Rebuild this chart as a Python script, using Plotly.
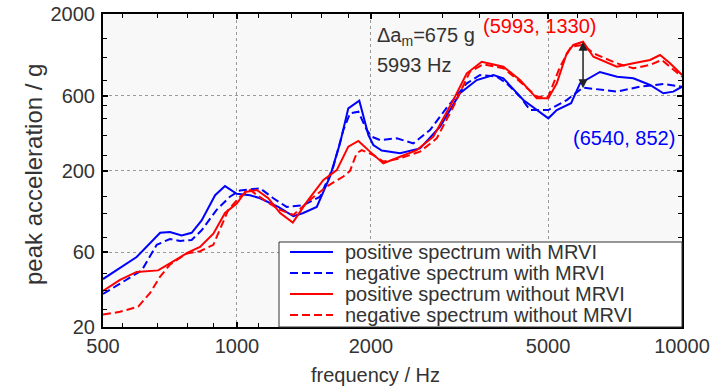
import numpy as np
import plotly.graph_objects as go

# ---------------- data ----------------
freq_pos_mrvi = [500, 595, 672, 707, 751, 791, 833, 893, 940, 999, 1070, 1127, 1238, 1339, 1409,
                 1511, 1618, 1704, 1779, 1883, 1974, 2025, 2115, 2325, 2579, 2860, 3171, 3458,
                 3769, 3969, 4400, 4716, 5008, 5231, 5634, 5900, 6540, 7146, 7774, 8477, 9078,
                 9560, 10000]
acc_pos_mrvi = [40.5, 56, 80, 81, 77, 80, 96, 139, 159, 142, 139, 133, 117, 102, 107,
                117, 183, 298, 499, 559, 337, 291, 268, 258, 277, 381, 623, 757,
                815, 776, 564, 487, 431, 487, 538, 721, 852, 795, 776, 704, 623,
                638, 686]

freq_neg_mrvi = [500, 611, 660, 707, 745, 791, 833, 900, 964, 1016, 1127, 1207, 1293, 1409,
                 1537, 1646, 1734, 1795, 1874, 1957, 2008, 2096, 2286, 2491, 2715, 2961, 3284,
                 3517, 3834, 4038, 4326, 4555, 5008, 5509, 5990, 6544, 7136, 8047, 9078, 10000]
acc_neg_mrvi = [32.5, 46, 67, 73, 71, 72, 83, 112, 136, 149, 154, 133, 117, 120,
                136, 211, 363, 464, 475, 363, 329, 313, 321, 298, 363, 504, 721,
                815, 795, 721, 592, 487, 487, 564, 678, 661, 638, 686, 714, 686]

freq_pos_none = [500, 546, 595, 665, 707, 777, 826, 885, 940, 999, 1043, 1108, 1176, 1250,
                 1335, 1435, 1564, 1676, 1779, 1874, 1990, 2132, 2325, 2535, 2762, 3063, 3284,
                 3548, 3969, 4326, 4716, 5008, 5231, 5509, 5700, 5993, 6322, 7136, 7774, 8477,
                 8926, 9400, 10000]
acc_pos_none = [34, 40, 45, 46, 51, 60, 65, 79, 107, 123, 146, 150, 133, 107,
                93, 126, 174, 201, 284, 309, 264, 222, 245, 270, 329, 564, 836,
                991, 921, 757, 578, 578, 721, 1122, 1268, 1330, 1067, 921, 968, 1017,
                1094, 968, 815]

freq_neg_none = [500, 546, 600, 638, 672, 707, 771, 826, 885, 932, 956, 1016, 1070, 1167,
                 1250, 1340, 1460, 1591, 1734, 1795, 1858, 1907, 2025, 2132, 2325, 2579, 2811,
                 3063, 3339, 3577, 3969, 4326, 4716, 5008, 5320, 5634, 5993, 6322, 7136, 7774,
                 8477, 9005, 10000]
acc_neg_none = [24, 25, 27, 33, 42, 50, 59, 61, 67, 96, 112, 136, 150, 126,
                112, 104, 130, 158, 183, 199, 258, 270, 251, 228, 239, 264, 321,
                511, 856, 954, 900, 739, 592, 592, 921, 1236, 1268, 1122, 968, 900,
                945, 1017, 795]

series_names = ["positive spectrum with MRVI", "negative spectrum with MRVI",
                "positive spectrum without MRVI", "negative spectrum without MRVI"]

x_ticks = [500, 1000, 2000, 5000, 10000]
y_ticks = [20, 60, 200, 600, 2000]
x_minor = [554, 662, 774, 884, 1115, 1329, 1552, 1782, 2320, 2900, 3500, 4170,
           5810, 7140, 7920, 8830]
y_minor = [26, 34.4, 44, 75, 107, 137, 251, 337, 433, 517, 757, 1062, 1404]

peak_without = (5993, 1330)
peak_with = (6540, 852)
delta_am = 675

# ---------------- styling ----------------
FONT = "Liberation Sans, Arial, sans-serif"
FS = 20
TXT = "#333333"
BLUE = "#0000ff"
RED = "#ff0000"
DASH = "8px,4px"

styles = [(BLUE, "solid"), (BLUE, DASH), (RED, "solid"), (RED, DASH)]
data = [(freq_pos_mrvi, acc_pos_mrvi), (freq_neg_mrvi, acc_neg_mrvi),
        (freq_pos_none, acc_pos_none), (freq_neg_none, acc_neg_none)]

fig = go.Figure()
for name, (f, a), (c, d) in zip(series_names, data, styles):
    fig.add_trace(go.Scatter(x=f, y=a, mode="lines", name=name,
                             line=dict(color=c, width=2, dash=d), showlegend=False))

L, R, T, B = 103, 46, 14, 63
W, H = 728, 390
PW, PH = W - L - R, H - T - B


def px(xpix):
    return (xpix - L) / PW


def py(ypix):
    return (H - B - ypix) / PH


fig.update_layout(width=W, height=H, margin=dict(l=L, r=R, t=T, b=B, autoexpand=False),
                  paper_bgcolor="white", plot_bgcolor="#f8f8f8", showlegend=False)

axis_common = dict(type="log", ticks="inside", ticklen=5, tickwidth=2, tickcolor="black",
                   showline=True, linecolor="black", linewidth=2, mirror="ticks",
                   showgrid=True, gridcolor="#999999", griddash="dot", gridwidth=1,
                   zeroline=False, automargin=False,
                   tickfont=dict(family=FONT, size=FS, color=TXT))

fig.update_xaxes(range=[np.log10(500), np.log10(10000)], tickvals=x_ticks,
                 ticktext=[str(v) for v in x_ticks], ticklabelstandoff=0,
                 minor=dict(tickvals=x_minor, ticks="inside", ticklen=4, tickwidth=1,
                            tickcolor="black", showgrid=False),
                 **axis_common)
fig.update_yaxes(range=[np.log10(20), np.log10(2000)], tickvals=y_ticks,
                 ticktext=[str(v) for v in y_ticks], ticklabelstandoff=2,
                 minor=dict(tickvals=y_minor, ticks="inside", ticklen=4, tickwidth=1,
                            tickcolor="black", showgrid=False),
                 **axis_common)

lg = np.log10
shapes = [
    # connector from the Δa text to the arrow
    dict(type="line", xref="x", yref="y", x0=lg(3187), y0=lg(1135), x1=lg(5900), y1=lg(977),
         line=dict(color="#333333", width=1)),
    # red label leader
    dict(type="line", xref="x", yref="y", x0=lg(5000), y0=lg(1469),
         x1=lg(peak_without[0]), y1=lg(peak_without[1]), line=dict(color=RED, width=1)),
    # blue label leader
    dict(type="line", xref="x", yref="y", x0=lg(peak_with[0]), y0=lg(peak_with[1]),
         x1=lg(7100), y1=lg(431), line=dict(color=BLUE, width=1)),
    # legend box
    dict(type="rect", xref="paper", yref="paper", x0=px(279), x1=1, y0=0, y1=py(242),
         fillcolor="white", line=dict(color="#333333", width=1), layer="above"),
]

legend_rows = [252, 273, 294, 315]
for name, (c, d), ry in zip(series_names, styles, legend_rows):
    shapes.append(dict(type="line", xref="paper", yref="paper", x0=px(290), x1=px(333),
                       y0=py(ry), y1=py(ry), line=dict(color=c, width=2, dash=d), layer="above"))

annotations = [
    dict(text="peak acceleration / g", xref="paper", yref="paper", x=px(33), y=py(175),
         textangle=-90, showarrow=False, xanchor="center", yanchor="middle",
         font=dict(family=FONT, size=24, color=TXT)),
    dict(text="frequency / Hz", xref="paper", yref="paper", x=px(375), y=py(375),
         showarrow=False, xanchor="center", yanchor="middle",
         font=dict(family=FONT, size=FS, color=TXT)),
    dict(text="Δa<sub>m</sub>=%d g" % delta_am, xref="paper", yref="paper", x=px(375), y=py(37),
         showarrow=False, xanchor="left", yanchor="middle",
         font=dict(family=FONT, size=FS, color=TXT)),
    dict(text="%d Hz" % peak_without[0], xref="paper", yref="paper", x=px(375), y=py(65),
         showarrow=False, xanchor="left", yanchor="middle",
         font=dict(family=FONT, size=FS, color=TXT)),
    dict(text="(%d, %d)" % peak_without, xref="paper", yref="paper", x=px(539), y=py(26),
         showarrow=False, xanchor="center", yanchor="middle",
         font=dict(family=FONT, size=FS, color=RED)),
    dict(text="(%d, %d)" % peak_with, xref="paper", yref="paper", x=px(624), y=py(138),
         showarrow=False, xanchor="center", yanchor="middle",
         font=dict(family=FONT, size=FS, color=BLUE)),
    # double-headed Δa arrow
    dict(text="", xref="x", yref="y", axref="x", ayref="y",
         x=lg(peak_without[0]), y=lg(peak_without[1]),
         ax=lg(peak_without[0]), ay=lg(peak_without[1] - delta_am),
         showarrow=True, arrowhead=2, arrowside="end+start", arrowsize=1.2,
         arrowwidth=1.5, arrowcolor="#222222", standoff=0, startstandoff=0),
]
for name, ry in zip(series_names, legend_rows):
    annotations.append(dict(text=name, xref="paper", yref="paper", x=px(343), y=py(ry),
                            showarrow=False, xanchor="left", yanchor="middle",
                            font=dict(family=FONT, size=FS, color=TXT)))

fig.update_layout(shapes=shapes, annotations=annotations)
fig.write_html("out.html", config={"displayModeBar": False},
               post_script="document.body.style.margin='0px';document.body.style.padding='0px';")
